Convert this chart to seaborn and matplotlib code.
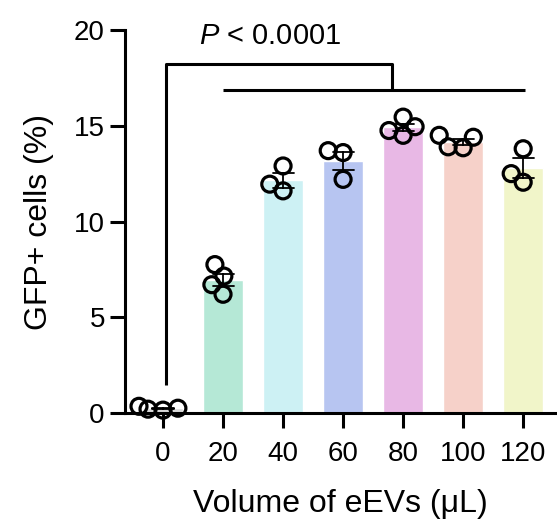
import numpy as np
import pandas as pd
import matplotlib
matplotlib.use("Agg")
import matplotlib.pyplot as plt
import seaborn as sns

# volumes of eEVs (uL) and replicate GFP+ percentages
volumes = ["0", "20", "40", "60", "80", "100", "120"]
rep_0 = [0.2, 0.35, 0.25, 0.15]
rep_20 = [7.75, 7.15, 6.7, 6.2]
rep_40 = [12.9, 11.6, 11.95]
rep_60 = [13.7, 13.6, 12.2]
rep_80 = [15.45, 14.95, 14.75, 14.5]
rep_100 = [14.5, 14.4, 13.9, 13.85]
rep_120 = [13.8, 12.05, 12.5]
bar_colors = ["#d9d9d9", "#b5e8d6", "#cdf1f4", "#b7c5f1", "#e8b8e5", "#f6d1c9", "#f1f5c9"]
p_text = "$P$ < 0.0001"

reps = [rep_0, rep_20, rep_40, rep_60, rep_80, rep_100, rep_120]
df = pd.DataFrame({
    "volume": [v for v, r in zip(volumes, reps) for _ in r],
    "gfp": [x for r in reps for x in r],
})

sns.set_style("ticks")
plt.rcParams["font.family"] = ["Liberation Sans", "DejaVu Sans"]
plt.rcParams["mathtext.fontset"] = "custom"
plt.rcParams["mathtext.it"] = "Liberation Sans:italic"
plt.rcParams["mathtext.rm"] = "Liberation Sans"
plt.rcParams["text.color"] = "black"
plt.rcParams["axes.labelcolor"] = "black"
plt.rcParams["xtick.color"] = "black"
plt.rcParams["ytick.color"] = "black"

fig = plt.figure(figsize=(5.57, 5.19), dpi=100)
ax = fig.add_axes([125 / 557, 106 / 519, 430 / 557, 383 / 519])

sns.barplot(data=df, x="volume", y="gfp", hue="volume", palette=bar_colors,
            order=volumes, hue_order=volumes, legend=False, width=0.67,
            saturation=1, errorbar="se", capsize=0.35,
            err_kws={"color": "black", "linewidth": 1.3}, ax=ax)
ax.set_xlim(-0.633, 6.53)
ax.set_ylim(0, 20)

# swarm laid out with smaller markers so the circles overlap a bit, like Prism
n_before = len(ax.collections)
sns.swarmplot(data=df, x="volume", y="gfp", order=volumes, color="black",
              size=8, linewidth=2.3, edgecolor="black", ax=ax)
ax.set_xlim(-0.633, 6.53)
ax.set_ylim(0, 20)
fig.canvas.draw()
for coll in ax.collections[n_before:]:
    if "draw" in coll.__dict__:
        del coll.draw
    coll.set_sizes([11.5 ** 2])
    coll.set_facecolor("none")
    coll.set_edgecolor("black")
    coll.set_clip_on(False)
    coll.set_zorder(5)

ax.set_yticks([0, 5, 10, 15, 20])
ax.set_xlabel("Volume of eEVs (\u03bcL)", fontsize=23, labelpad=16)
ax.set_ylabel("GFP+ cells (%)", fontsize=23, labelpad=14)
ax.tick_params(axis="both", labelsize=20, width=2.2, length=11, color="black")
ax.tick_params(axis="x", pad=9)
for side in ["left", "bottom"]:
    ax.spines[side].set_linewidth(2.2)
    ax.spines[side].set_color("black")
sns.despine(ax=ax)

# significance bracket
lw = 2.2
ax.plot([0.05, 0.05, 3.82, 3.82], [1.47, 18.2, 18.2, 16.85],
        color="black", lw=lw, clip_on=False, solid_capstyle="butt")
ax.plot([1.0, 6.03], [16.85, 16.85], color="black", lw=lw, clip_on=False,
        solid_capstyle="butt")
ax.text(1.79, 19.7, p_text, ha="center", va="center", fontsize=21)

fig.savefig("out.png", dpi=100)
